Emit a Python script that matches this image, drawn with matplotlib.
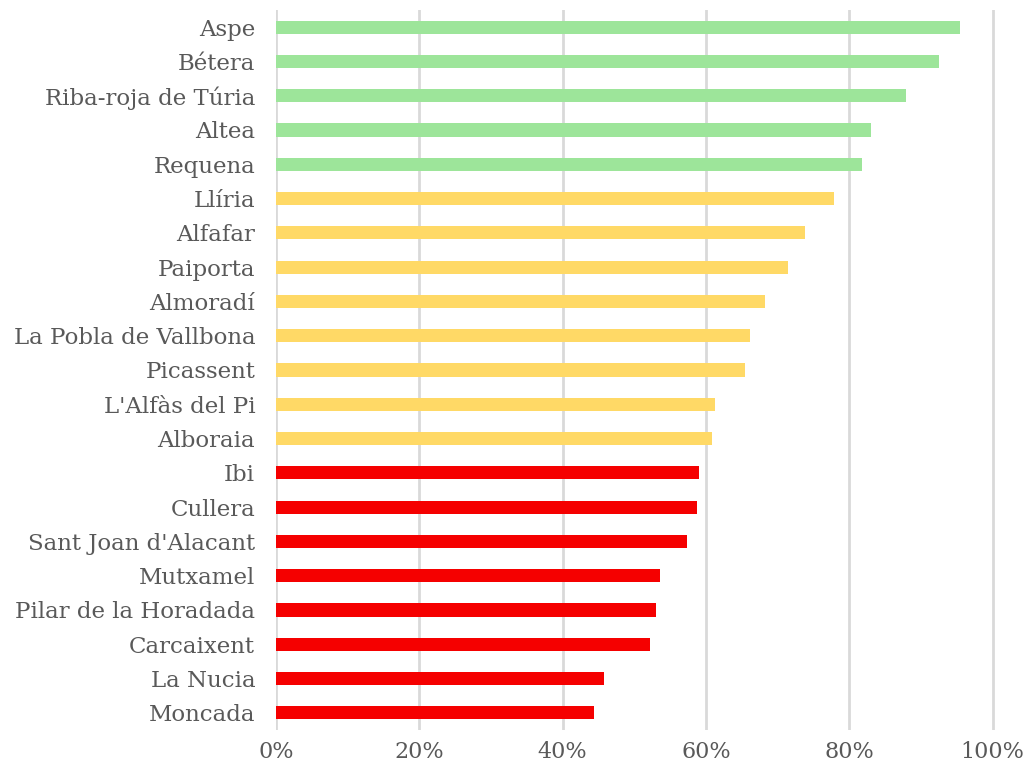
import matplotlib
matplotlib.use("Agg")
import matplotlib.pyplot as plt
from matplotlib.ticker import PercentFormatter

# Municipalities, top to bottom
municipios = [
    "Aspe", "Bétera", "Riba-roja de Túria", "Altea", "Requena",
    "Llíria", "Alfafar", "Paiporta", "Almoradí", "La Pobla de Vallbona",
    "Picassent", "L'Alfàs del Pi", "Alboraia",
    "Ibi", "Cullera", "Sant Joan d'Alacant", "Mutxamel",
    "Pilar de la Horadada", "Carcaixent", "La Nucia", "Moncada",
]
porcentaje = [
    0.955, 0.925, 0.879, 0.830, 0.818,
    0.779, 0.739, 0.715, 0.683, 0.661,
    0.654, 0.613, 0.609,
    0.591, 0.588, 0.574, 0.536,
    0.530, 0.522, 0.458, 0.444,
]
grupo = ["alto"] * 5 + ["medio"] * 8 + ["bajo"] * 8

colores = {"alto": "#9de59a", "medio": "#ffd966", "bajo": "#f50000"}

fig = plt.figure(figsize=(10.24, 7.71), dpi=100)
x0, x100 = 276, 992.5
xmax = 1.01
ax = fig.add_axes([x0 / 1024, 1 - 730 / 771,
                   (x100 - x0) * xmax / 1024, 720 / 771])

n = len(municipios)
ypos = list(range(n))[::-1]
ax.barh(ypos, porcentaje, height=0.38,
        color=[colores[g] for g in grupo], zorder=3)

ax.set_xlim(0, xmax)
ax.set_ylim(-0.5, n - 0.5)
ax.set_yticks(ypos)
ax.set_yticklabels(municipios)
ax.set_xticks([0, 0.2, 0.4, 0.6, 0.8, 1.0])
ax.xaxis.set_major_formatter(PercentFormatter(1.0, decimals=0))

ax.grid(axis="x", color="#d9d9d9", linewidth=2, zorder=0)
for s in ax.spines.values():
    s.set_visible(False)

ax.tick_params(axis="y", length=0, pad=15, labelsize=16.5, labelcolor="#595959")
ax.tick_params(axis="x", length=0, pad=8, labelsize=16, labelcolor="#595959")
for lab in ax.get_yticklabels() + ax.get_xticklabels():
    lab.set_family("DejaVu Serif")

fig.savefig("out.png", dpi=100)
